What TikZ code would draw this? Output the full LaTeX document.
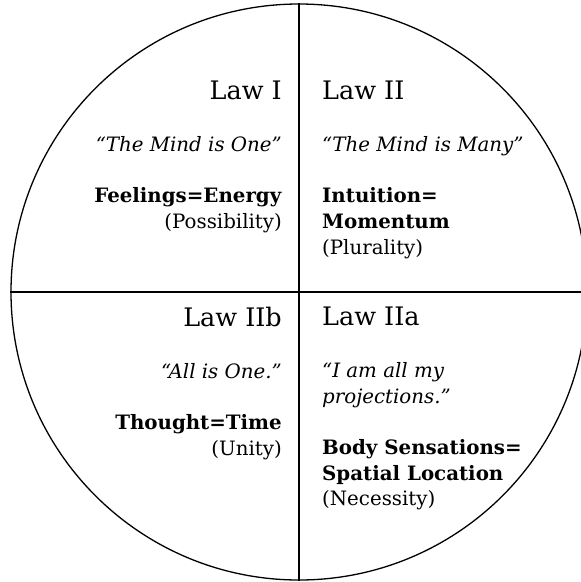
\documentclass[tikz,border=0pt]{standalone}
\usepackage{fontspec}
\setmainfont{DejaVu Serif}
\usepackage{tikz}
\usetikzlibrary{positioning}

\newcommand{\lawtitle}[1]{{\fontsize{25.5}{25.7}\selectfont #1}}

\begin{document}
\begin{tikzpicture}[x=1pt, y=-1pt,
        divider/.style={line width=1.3pt},
        law/.style={font=\fontsize{19.8}{25.7}\selectfont, inner sep=0pt},
        lawleft/.style={law, align=right, anchor=north east},
        lawright/.style={law, align=left, anchor=north west}
    ]
            \useasboundingbox (0,0) rectangle (581,582);
            \clip (0,0) rectangle (581,582);

            % Circle and quadrants
            \node[circle, draw, divider, minimum size=576pt, inner sep=0pt] (disc) at (299,292) {};
            \draw[divider] (disc.north) -- (disc.south);
            \draw[divider] (disc.west) -- (disc.east);

            % Laws
            \node[lawleft] (lawone) at (282,81) {\lawtitle{Law I}\\[26pt] \textit{“The Mind is One”}\\[25.7pt] \textbf{Feelings=Energy}\\ (Possibility)};
            \node[lawright] (lawtwo) at (322,81) {\lawtitle{Law II}\\[26pt] \textit{“The Mind is Many”}\\[25.7pt] \textbf{Intuition=}\\ \textbf{Momentum}\\ (Plurality)};
            \node[lawleft] (lawtwob) at (282,307) {\lawtitle{Law IIb}\\[26pt] \textit{“All is One.”}\\[25.7pt] \textbf{Thought=Time}\\ (Unity)};
            \node[lawright] (lawtwoa) at (322,307) {\lawtitle{Law IIa}\\[26pt] \textit{“I am all my}\\ \textit{projections.”}\\[25.7pt] \textbf{Body Sensations=}\\ \textbf{Spatial Location}\\ (Necessity)};
    \end{tikzpicture}
\end{document}
